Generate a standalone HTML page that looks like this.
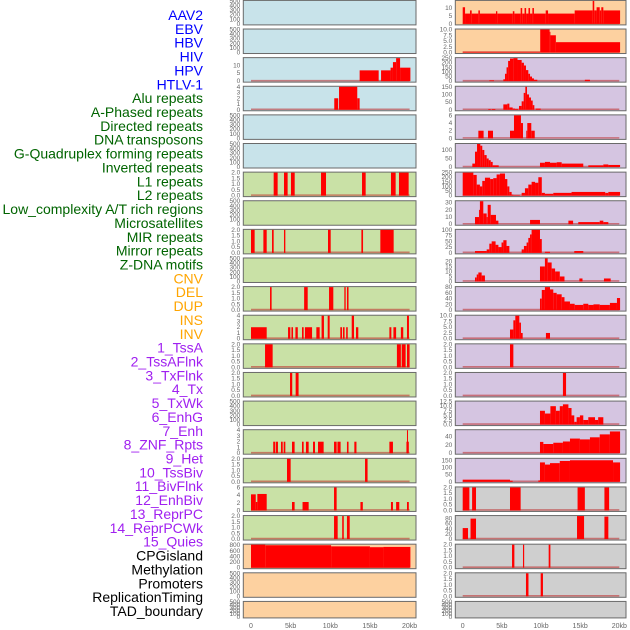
<!DOCTYPE html>
<html><head><meta charset="utf-8"><style>
html,body{margin:0;padding:0;background:#fff;}
svg{display:block;}
</style></head><body>
<svg id="chart" width="630" height="630" viewBox="0 0 630 630" xmlns="http://www.w3.org/2000/svg" font-family="Liberation Sans, sans-serif"></svg>
<script>
const labels = ["AAV2","EBV","HBV","HIV","HPV","HTLV-1","Alu repeats","A-Phased repeats","Directed repeats","DNA transposons","G-Quadruplex forming repeats","Inverted repeats","L1 repeats","L2 repeats","Low_complexity A/T rich regions","Microsatellites","MIR repeats","Mirror repeats","Z-DNA motifs","CNV","DEL","DUP","INS","INV","1_TssA","2_TssAFlnk","3_TxFlnk","4_Tx","5_TxWk","6_EnhG","7_Enh","8_ZNF_Rpts","9_Het","10_TssBiv","11_BivFlnk","12_EnhBiv","13_ReprPC","14_ReprPCWk","15_Quies","CPGisland","Methylation","Promoters","ReplicationTiming","TAD_boundary"];
const labelColors = ["#0000ff","#0000ff","#0000ff","#0000ff","#0000ff","#0000ff","#006400","#006400","#006400","#006400","#006400","#006400","#006400","#006400","#006400","#006400","#006400","#006400","#006400","#ffa500","#ffa500","#ffa500","#ffa500","#ffa500","#a020f0","#a020f0","#a020f0","#a020f0","#a020f0","#a020f0","#a020f0","#a020f0","#a020f0","#a020f0","#a020f0","#a020f0","#a020f0","#a020f0","#a020f0","#000","#000","#000","#000","#000"];
const xTicks = [0,5,10,15,20];
const xTickLabels = ["0","5kb","10kb","15kb","20kb"];

// Left column panels: [start kb, end kb, value]
const L2 = [[13.7,16.1,6.8],[16.4,17.6,6.8],[17.6,17.9,8.5],[17.9,18.3,12],[18.3,18.8,14.5],[18.8,20.1,8.5]];
const L3 = [[10.5,11.0,2],[11.1,13.4,4],[13.4,13.7,2]];
const L6 = [[2.86,3.36,2],[4.16,4.62,2],[5.04,5.51,2],[8.83,9.46,2],[14.0,14.46,2],[17.65,18.24,2],[18.66,19.88,2]];
const L8 = [[0,0.46,2],[1.56,1.98,2],[2.65,2.86,2],[4.16,4.33,2],[9.71,10.05,2],[13.92,14.13,2],[16.31,17.99,2]];
const L10 = [[2.4,2.6,2],[6.7,7.15,2],[9.84,10.38,2],[11.77,11.94,2],[12.1,12.3,2]];
const L11 = [[0,1.98,2],[4.67,4.96,2],[5.1,5.3,2],[5.6,5.9,2],[6.43,6.64,2],[6.8,7.7,2],[8.24,8.66,2],[8.9,9.2,4],[9.67,9.92,4],[11.26,11.48,2],[11.6,11.8,2],[12.0,12.2,2],[12.7,12.99,4],[13.24,13.53,2],[17.45,17.7,2],[17.96,18.3,2],[18.9,19.2,2],[19.67,19.92,4]];
const L12 = [[1.77,2.73,2],[18.4,18.9,2],[19.0,19.5,2],[19.67,20.0,2]];
const L13 = [[4.92,5.2,2],[5.63,6.0,2]];
const L15 = [[2.8,3.07,2],[3.15,3.4,2],[3.78,4.0,2],[4.12,4.33,2],[5.17,5.5,2],[6.43,6.64,2],[6.93,7.27,2],[7.82,8.07,2],[8.45,9.16,2],[10.47,10.8,2],[10.9,11.3,2],[12.1,12.3,2],[13.03,13.3,2],[17.45,17.9,2],[19.6,19.9,2],[19.67,19.8,4]];
const L16 = [[4.54,5.0,2],[14.38,14.7,2]];
const L17 = [[0,0.6,4.2],[0.6,0.8,2.2],[0.8,1.98,4.3],[5.17,5.5,2.2],[6.5,7.27,2.2],[10.47,10.8,6],[13.8,14.1,2.2],[17.65,17.9,2.2],[18.3,18.7,2.2],[19.67,19.9,2.2]];
const L18 = [[10.47,10.93,2],[11.5,11.7,2],[12.1,12.45,2]];
const L19 = [[0,1.8,820],[1.8,10.1,800],[10.1,15.0,760],[15.0,16.7,730],[16.7,20.1,740]];

// Right column panels
const R0 = [[0,0.3,10.5],[0.3,0.93,6.5],[0.93,1.15,8.5],[1.15,2.0,6.5],[2.0,2.2,8.5],[2.2,4.25,6.5],[4.25,4.42,8],[4.42,6.4,6.5],[6.4,6.6,8],[6.6,7.4,6.5],[7.4,7.6,10],[7.6,7.9,6.5],[7.9,8.1,10],[8.1,8.4,6.5],[8.4,8.6,10],[8.6,8.9,6.5],[8.9,9.1,10],[9.1,10.6,6.5],[10.6,10.9,8.5],[10.9,14.3,6.5],[14.3,16.6,8.5],[16.6,16.8,14.5],[16.8,17.1,8.5],[17.1,17.5,10.5],[17.5,17.7,8.5],[17.7,17.96,10.5],[17.96,20.1,8.5]];
const R1 = [[0,9.9,0.3],[9.9,11.1,10],[11.1,11.2,9],[11.2,11.9,7.5],[11.9,20.1,4.5]];
const R2 = [[3.4,4.0,8],[5.19,5.4,20],[5.4,5.6,80],[5.6,5.8,150],[5.8,6.04,220],[6.04,6.47,245],[6.47,7.0,250],[7.0,7.53,230],[7.53,7.82,200],[7.82,8.08,170],[8.08,8.38,120],[8.38,8.6,80],[8.6,8.85,50],[8.85,9.1,30],[9.1,9.53,15],[15.6,16.25,15]];
const R3 = [[3.27,3.58,5],[3.7,4.17,5],[5.19,5.7,35],[5.7,5.96,40],[5.96,6.38,15],[6.38,6.68,8],[6.68,7.1,5],[7.19,7.53,25],[7.53,7.79,55],[7.79,8.0,110],[8.0,8.21,150],[8.21,8.47,100],[8.47,8.72,80],[8.72,8.94,60],[8.94,9.15,30],[9.32,9.96,8]];
const R4 = [[2.0,2.67,2],[3.23,3.87,2],[6.04,6.55,2],[6.55,7.44,6],[7.44,7.7,4],[8.12,8.25,2],[8.25,8.76,4],[8.76,9.2,2]];
const R5 = [[1.23,1.57,20],[1.57,1.83,90],[1.83,2.25,135],[2.25,2.5,125],[2.5,2.76,100],[2.76,3.06,70],[3.06,3.32,50],[3.32,3.58,40],[3.58,3.83,30],[3.83,4.6,10],[9.87,10.5,25],[10.5,11.15,30],[11.15,12.0,25],[12.0,12.64,28],[12.64,15.4,20],[16.04,17.96,10],[17.96,18.6,15],[18.6,20.1,12]];
const R6 = [[0,1.36,250],[1.36,1.79,225],[1.79,2.2,120],[2.2,2.5,100],[2.5,2.84,160],[2.84,3.5,195],[3.5,3.9,180],[3.9,4.33,190],[4.33,4.75,230],[4.75,5.4,240],[5.4,5.7,180],[5.7,5.96,100],[5.96,6.25,40],[6.25,6.47,10],[6.47,7.3,5],[7.53,7.95,30],[7.95,8.38,80],[8.38,8.8,120],[8.8,9.24,150],[9.24,9.66,140],[9.66,10.1,200],[10.1,10.5,30],[10.5,11.57,20],[11.57,13.9,30],[13.9,18.2,40],[18.2,18.6,30],[18.6,20.1,40]];
const R7 = [[1.57,2.08,10],[2.08,2.2,20],[2.2,2.63,33],[2.63,3.06,15],[3.06,3.19,10],[3.19,3.58,27],[3.58,4.25,13],[4.25,4.56,5],[8.6,9.87,6],[13.5,14.1,5],[14.76,17.5,3],[17.5,17.96,5],[17.96,18.6,3]];
const R8 = [[1.57,3.06,8],[3.06,3.4,15],[3.4,3.7,40],[3.7,4.2,50],[4.2,4.56,35],[4.56,4.96,25],[4.96,5.19,45],[5.19,5.6,55],[5.6,5.96,30],[7.53,7.82,15],[7.82,8.16,30],[8.16,8.38,45],[8.38,8.6,65],[8.6,8.8,80],[8.8,9.87,100],[9.87,10.1,60],[10.5,11.15,5],[14.25,15.4,8]];
const R9 = [[1.57,1.79,4],[1.79,2.0,7],[2.0,2.42,9],[2.42,2.84,6],[9.87,10.5,15],[10.5,10.85,23],[10.85,11.36,19],[11.36,11.8,13],[11.8,12.4,10],[12.4,13.0,5],[14.9,15.3,3],[18.04,18.9,3]];
const R10 = [[9.87,10.1,40],[10.1,10.5,70],[10.5,11.15,80],[11.15,11.57,72],[11.57,12.0,60],[12.0,12.64,55],[12.64,13.0,45],[13.0,13.7,30],[13.7,14.3,22],[14.3,15.4,18],[15.4,16.04,22],[16.04,16.7,18],[16.7,17.5,20],[17.5,18.8,18],[18.8,19.7,25],[19.7,20.1,42]];
const R11 = [[6.04,6.47,4],[6.47,6.72,8],[6.72,7.23,10],[7.23,7.44,7],[7.44,7.66,2.5],[10.63,11.15,2.5]];
const R12 = [[6.04,6.47,2]];
const R13 = [[12.8,13.2,2]];
const R14 = [[9.87,10.5,7.5],[10.5,11.2,6],[11.2,11.9,10],[11.9,12.4,7.5],[12.4,12.8,10],[12.8,13.5,11],[13.5,13.9,9],[13.9,14.25,5],[14.25,14.55,1.5],[14.55,14.97,4],[14.97,15.4,5],[15.4,16.04,2.5],[16.04,16.9,4],[16.9,17.3,2.5],[17.3,17.96,4]];
const R15 = [[9.87,10.3,27],[10.3,11.57,22],[11.57,12.8,25],[12.8,13.7,28],[13.7,14.97,35],[14.97,16.25,33],[16.25,17.5,38],[17.5,18.8,45],[18.8,20.1,52]];
const R16 = [[0,6.04,15],[6.04,6.38,8],[9.66,9.87,10],[9.87,10.5,135],[10.5,11.15,120],[11.15,12.4,130],[12.4,13.7,145],[13.7,19.2,150],[19.2,20.1,135]];
const R17 = [[0,0.85,2],[1.2,1.7,2],[6.04,7.4,2],[14.67,15.6,2],[18.1,18.7,2]];
const R18 = [[0,0.68,43],[1.0,1.7,80],[14.6,15.5,90],[18.1,18.6,88]];
const R19 = [[6.3,6.6,2],[7.7,7.85,2],[10.98,11.2,2]];
const R20 = [[8.08,8.4,2],[9.96,10.25,2]];

const T500 = [0,100,200,300,400,500];
const T2 = [0,0.5,1.0,1.5,2.0];
const T4 = [0,1,2,3,4];
const T10 = [0,2.5,5.0,7.5,10.0];
const BLUE="#c8e3ea", ORANGE="#fdd1a0", PURPLE="#d5c5e1", GREEN="#c9e1a6", GRAY="#cfcfcf";

// [data, bg, ymax, ticks, decimals]
const leftPanels = [
 [null,BLUE,500,T500,0],[null,BLUE,500,T500,0],[L2,BLUE,14.5,[0,5,10],0],[L3,BLUE,4,T4,0],[null,BLUE,500,T500,0],[null,BLUE,500,T500,0],
 [L6,GREEN,2,T2,1],[null,GREEN,500,T500,0],[L8,GREEN,2,T2,1],[null,GREEN,500,T500,0],[L10,GREEN,2,T2,1],[L11,GREEN,4,T4,0],
 [L12,GREEN,2,T2,1],[L13,GREEN,2,T2,1],[null,GREEN,500,T500,0],[L15,GREEN,4,T4,0],[L16,GREEN,2,T2,1],[L17,GREEN,6,[0,2,4,6],0],
 [L18,GREEN,2,T2,1],[L19,ORANGE,820,[0,200,400,600,800],0],[null,ORANGE,500,T500,0],[null,ORANGE,500,T500,0]];
const rightPanels = [
 [R0,ORANGE,14.5,[0,5,10],0],[R1,ORANGE,10,T10,1],[R2,PURPLE,250,[0,50,100,150,200,250],0],[R3,PURPLE,150,[0,50,100,150],0],
 [R4,PURPLE,6,[0,2,4,6],0],[R5,PURPLE,135,[0,50,100],0],[R6,PURPLE,250,[0,50,100,150,200,250],0],[R7,PURPLE,32,[0,10,20,30],0],
 [R8,PURPLE,100,[0,25,50,75,100],0],[R9,PURPLE,23,[0,5,10,15,20],0],[R10,PURPLE,80,[0,20,40,60,80],0],[R11,PURPLE,10,T10,1],
 [R12,PURPLE,2,T2,1],[R13,PURPLE,2,T2,1],[R14,PURPLE,12.5,[0,2.5,5.0,7.5,10.0,12.5],1],[R15,PURPLE,55,[0,20,40],0],
 [R16,PURPLE,160,[0,50,100,150],0],[R17,GRAY,2,T2,1],[R18,GRAY,90,[0,20,40,60,80],0],[R19,GRAY,2,T2,1],[R20,GRAY,2,T2,1],[null,GRAY,500,T500,0]];

const NS="http://www.w3.org/2000/svg";
const svg=document.getElementById('chart');
function mk(tag,attrs,parent){const e=document.createElementNS(NS,tag);for(const k in attrs)e.setAttribute(k,attrs[k]);(parent||svg).appendChild(e);return e;}

// labels
labels.forEach((t,i)=>{
  const el=mk('text',{x:203,y:15+13.86*i+5,'text-anchor':'end','font-size':14,fill:labelColors[i]});
  el.textContent=t;
  
  
});

function rowTop(i){return 0.4+28.62*i;}
function rowH(i){return i===21?16.5:24.5;}

function drawPanel(p,i,col){
  const [data,bg,ymax,ticks,dec]=p;
  const left= col===0?243.3:455.3, right= col===0?416:626;
  const x0k= col===0?251:462.7, pxk= col===0?7.93:7.83;
  const xs=k=>x0k+k*pxk;
  const top=rowTop(i), h=rowH(i), base=top+h-1;
  const ys=v=>base-Math.min(v,ymax)/ymax*(h-1.5);
  const g=mk('g',{});
  
  
  mk('rect',{x:left,y:top,width:right-left,height:h,fill:bg,stroke:'#6a6a6a','stroke-width':1},g);
  ticks.forEach(t=>{
    const tl=mk('text',{x:left-3,y:ys(t)+2,'text-anchor':'end','font-size':6.5,fill:'#666'},g);
    tl.textContent=t.toFixed(dec);
    
    
  });
  if(data){
    const bl=mk('line',{x1:xs(0),x2:xs(20),y1:base-0.5,y2:base-0.5,stroke:'rgba(190,40,40,0.55)','stroke-width':1.6},g);
    
    
    data.forEach(s=>{
      const r=mk('rect',{x:xs(s[0]),y:ys(s[2]),width:Math.max(0.8,xs(s[1])-xs(s[0])),height:base-ys(s[2]),fill:'#ff0000'},g);
      
      
    });
  }
}
leftPanels.forEach((p,i)=>drawPanel(p,i,0));
rightPanels.forEach((p,i)=>drawPanel(p,i,1));

// x-axis tick labels
[[251,7.93],[462.7,7.83]].forEach(([x0,pk],c)=>{
  xTicks.forEach((t,j)=>{
    const el=mk('text',{x:x0+t*pk,y:628,'text-anchor':'middle','font-size':7,fill:'#666'});
    el.textContent=xTickLabels[j];
    
    
  });
});
</script>
</body></html>
